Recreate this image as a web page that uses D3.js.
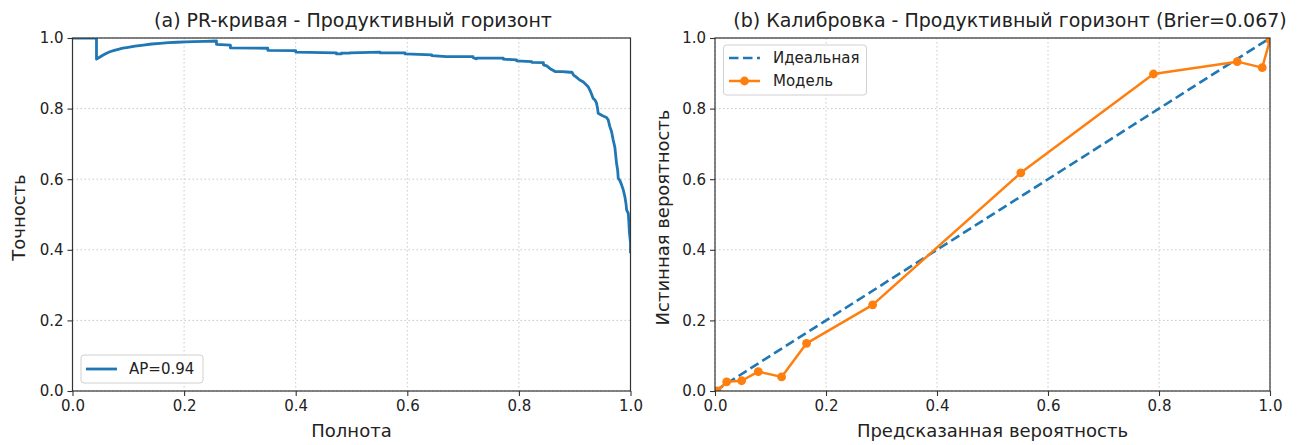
<!DOCTYPE html>
<html>
<head>
<meta charset="utf-8">
<script src="https://cdn.jsdelivr.net/npm/d3@7"></script>
<style>
  html, body { margin: 0; padding: 0; background: #fff; }
  svg { display: block; font-family: "DejaVu Sans", sans-serif; }
</style>
</head>
<body>
<svg id="chart" width="1304" height="445"></svg>
<script>
// Precision–recall curve (recall, precision)
const prRecall = [0, 0.043, 0.043, 0.050, 0.055, 0.061, 0.067, 0.075, 0.082, 0.090, 0.097, 0.112, 0.127, 0.142, 0.157, 0.172, 0.187, 0.202, 0.217, 0.237, 0.258,
  0.258, 0.283, 0.283, 0.350, 0.350, 0.400, 0.400, 0.473, 0.473, 0.482, 0.482, 0.497, 0.497, 0.551, 0.551, 0.596, 0.596, 0.644, 0.644, 0.670, 0.670, 0.718, 0.718,
  0.724, 0.724, 0.772, 0.772, 0.796, 0.796, 0.823, 0.823, 0.844, 0.844, 0.850, 0.857, 0.865, 0.878, 0.892, 0.895, 0.898, 0.903, 0.909, 0.915, 0.921, 0.924, 0.927,
  0.930, 0.933, 0.936, 0.939, 0.941, 0.942, 0.950, 0.957, 0.960, 0.963, 0.966, 0.969, 0.972, 0.975, 0.977, 0.978, 0.981, 0.984, 0.987, 0.990, 0.992, 0.993, 0.996, 0.997, 0.998, 1.0, 1.0];
const prPrecision = [1.0, 1.0, 0.940, 0.947, 0.952, 0.957, 0.961, 0.965, 0.968, 0.971, 0.973, 0.977, 0.980, 0.983, 0.985, 0.987, 0.988, 0.989, 0.9895, 0.9905, 0.9915,
  0.982, 0.980, 0.972, 0.971, 0.965, 0.964, 0.960, 0.958, 0.955, 0.955, 0.957, 0.957, 0.958, 0.960, 0.958, 0.958, 0.955, 0.952, 0.950, 0.947, 0.947, 0.947, 0.944,
  0.941, 0.943, 0.943, 0.940, 0.938, 0.935, 0.933, 0.931, 0.930, 0.924, 0.921, 0.912, 0.905, 0.905, 0.903, 0.903, 0.895, 0.889, 0.881, 0.876, 0.867, 0.862, 0.853,
  0.842, 0.829, 0.825, 0.816, 0.800, 0.787, 0.780, 0.775, 0.768, 0.749, 0.735, 0.711, 0.690, 0.645, 0.625, 0.603, 0.596, 0.584, 0.570, 0.550, 0.530, 0.513, 0.503, 0.480, 0.450, 0.420, 0.390];

// Calibration curve: mean predicted probability vs observed frequency
const calPredicted = [0.004, 0.021, 0.048, 0.078, 0.120, 0.165, 0.284, 0.551, 0.790, 0.941, 0.986, 1.0];
const calObserved  = [0.000, 0.026, 0.029, 0.055, 0.040, 0.135, 0.244, 0.618, 0.898, 0.933, 0.916, 0.995];
const idealLine = [0, 1];

const tickValues = [0, 0.2, 0.4, 0.6, 0.8, 1.0];

const titles = ["(a) PR-кривая - Продуктивный горизонт", "(b) Калибровка - Продуктивный горизонт (Brier=0.067)"];
const xLabels = ["Полнота", "Предсказанная вероятность"];
const yLabels = ["Точность", "Истинная вероятность"];
const apLabel = "AP=0.94";
const legendCal = ["Идеальная", "Модель"];

const BLUE = "#1f77b4", ORANGE = "#ff7f0e";
const svg = d3.select("#chart");

const panels = [
  { left: 72.5, right: 630.5, titleX: 353 },
  { left: 715, right: 1270, titleX: 1010 }
];
const plotTop = 38, plotBottom = 391;

function drawFrame(i) {
  const p = panels[i];
  const x = d3.scaleLinear().domain([0, 1]).range([p.left, p.right]);
  const y = d3.scaleLinear().domain([0, 1]).range([plotBottom, plotTop]);
  const g = svg.append("g");

  // grid
  g.append("g").selectAll("line").data(tickValues).join("line")
    .attr("x1", d => x(d)).attr("x2", d => x(d)).attr("y1", plotTop).attr("y2", plotBottom)
    .attr("stroke", "#c8c8c8").attr("stroke-width", 1).attr("stroke-dasharray", "1.5,2.5");
  g.append("g").selectAll("line").data(tickValues).join("line")
    .attr("y1", d => y(d)).attr("y2", d => y(d)).attr("x1", p.left).attr("x2", p.right)
    .attr("stroke", "#c8c8c8").attr("stroke-width", 1).attr("stroke-dasharray", "1.5,2.5");

  const fmt = d3.format(".1f");
  const xAxis = g.append("g").attr("transform", `translate(0,${plotBottom})`)
    .call(d3.axisBottom(x).tickValues(tickValues).tickFormat(fmt).tickSize(5).tickPadding(4));
  const yAxis = g.append("g").attr("transform", `translate(${p.left},0)`)
    .call(d3.axisLeft(y).tickValues(tickValues).tickFormat(fmt).tickSize(5).tickPadding(4));
  [xAxis, yAxis].forEach(a => {
    a.select(".domain").remove();
    a.selectAll("line").attr("stroke", "#333").attr("stroke-width", 1.1);
    a.selectAll("text").attr("fill", "#222").style("font-size", "15px").style("font-family", "DejaVu Sans");
  });

  // clip
  const clipId = "clip" + i;
  svg.append("clipPath").attr("id", clipId).append("rect")
    .attr("x", p.left).attr("y", plotTop).attr("width", p.right - p.left).attr("height", plotBottom - plotTop);
  const plot = svg.append("g").attr("clip-path", `url(#${clipId})`);

  // title & labels
  svg.append("text").attr("x", p.titleX).attr("y", 27).attr("text-anchor", "middle")
    .style("font-size", "19px").attr("fill", "#222").text(titles[i]);
  svg.append("text").attr("x", (p.left + p.right) / 2).attr("y", 437).attr("text-anchor", "middle")
    .style("font-size", "18px").attr("fill", "#222").text(xLabels[i]);
  const ylx = i === 0 ? 24.5 : 668.5;
  svg.append("text").attr("transform", `translate(${ylx},${(plotTop + plotBottom) / 2 + 3}) rotate(-90)`)
    .attr("text-anchor", "middle").style("font-size", "18px").attr("fill", "#222").text(yLabels[i]);

  return { x, y, plot, frame: () => {
    svg.append("rect").attr("x", p.left).attr("y", plotTop).attr("width", p.right - p.left).attr("height", plotBottom - plotTop)
      .attr("fill", "none").attr("stroke", "#333").attr("stroke-width", 1.2);
  } };
}

// Panel (a): PR curve
{
  const { x, y, plot, frame } = drawFrame(0);
  const pts = prRecall.map((r, k) => [r, prPrecision[k]]);
  plot.append("path").datum(pts)
    .attr("d", d3.line().x(d => x(d[0])).y(d => y(d[1])))
    .attr("fill", "none").attr("stroke", BLUE).attr("stroke-width", 2.8).attr("stroke-linejoin", "round");
  frame();

  const lg = svg.append("g");
  lg.append("rect").attr("x", 81).attr("y", 355).attr("width", 122).attr("height", 28).attr("rx", 3)
    .attr("fill", "#fff").attr("fill-opacity", 0.85).attr("stroke", "#d0d0d0");
  lg.append("line").attr("x1", 86).attr("x2", 117).attr("y1", 369).attr("y2", 369)
    .attr("stroke", BLUE).attr("stroke-width", 2.8);
  lg.append("text").attr("x", 129).attr("y", 374).style("font-size", "15px").attr("fill", "#222").text(apLabel);
}

// Panel (b): calibration
{
  const { x, y, plot, frame } = drawFrame(1);
  plot.append("line")
    .attr("x1", x(idealLine[0])).attr("y1", y(idealLine[0])).attr("x2", x(idealLine[1])).attr("y2", y(idealLine[1]))
    .attr("stroke", BLUE).attr("stroke-width", 2.6).attr("stroke-dasharray", "9.5,4.5");
  const pts = calPredicted.map((v, k) => [v, calObserved[k]]);
  plot.append("path").datum(pts)
    .attr("d", d3.line().x(d => x(d[0])).y(d => y(d[1])))
    .attr("fill", "none").attr("stroke", ORANGE).attr("stroke-width", 2.5).attr("stroke-linejoin", "round");
  plot.selectAll("circle").data(pts).join("circle")
    .attr("cx", d => x(d[0])).attr("cy", d => y(d[1])).attr("r", 4.4).attr("fill", ORANGE);
  frame();

  const lg = svg.append("g");
  lg.append("rect").attr("x", 723.5).attr("y", 45).attr("width", 143).attr("height", 50).attr("rx", 3)
    .attr("fill", "#fff").attr("fill-opacity", 0.85).attr("stroke", "#d0d0d0");
  lg.append("line").attr("x1", 729).attr("x2", 760).attr("y1", 58).attr("y2", 58)
    .attr("stroke", BLUE).attr("stroke-width", 2.6).attr("stroke-dasharray", "9.5,4.5");
  lg.append("line").attr("x1", 729).attr("x2", 760).attr("y1", 81).attr("y2", 81)
    .attr("stroke", ORANGE).attr("stroke-width", 2.5);
  lg.append("circle").attr("cx", 744.5).attr("cy", 81).attr("r", 4.4).attr("fill", ORANGE);
  lg.append("text").attr("x", 773).attr("y", 63).style("font-size", "15px").attr("fill", "#222").text(legendCal[0]);
  lg.append("text").attr("x", 773).attr("y", 86).style("font-size", "15px").attr("fill", "#222").text(legendCal[1]);
}
</script>
</body>
</html>
